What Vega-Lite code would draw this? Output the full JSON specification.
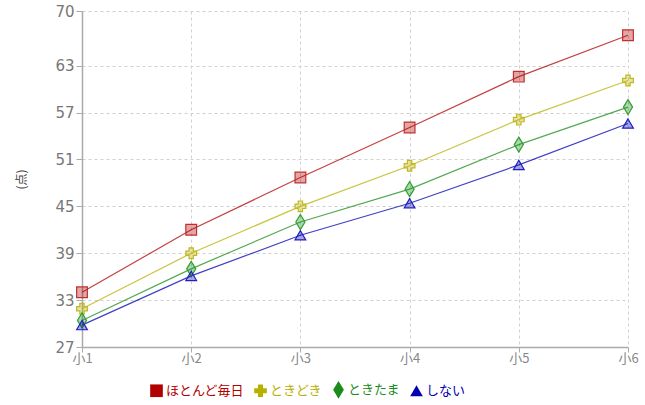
{
  "$schema": "https://vega.github.io/schema/vega-lite/v6.json",
  "autosize": "none",
  "width": 546,
  "height": 336,
  "padding": {"left": 82, "top": 11, "right": 17, "bottom": 58},
  "background": "white",
  "config": {"font": "Noto Sans CJK JP", "view": {"stroke": null}},
  "data": {"values": [
    {"grade": "小1", "series": "ほとんど毎日", "score": 34.0},
    {"grade": "小2", "series": "ほとんど毎日", "score": 42.0},
    {"grade": "小3", "series": "ほとんど毎日", "score": 48.7},
    {"grade": "小4", "series": "ほとんど毎日", "score": 55.1},
    {"grade": "小5", "series": "ほとんど毎日", "score": 61.6},
    {"grade": "小6", "series": "ほとんど毎日", "score": 66.9},
    {"grade": "小1", "series": "ときどき", "score": 31.9},
    {"grade": "小2", "series": "ときどき", "score": 39.0},
    {"grade": "小3", "series": "ときどき", "score": 45.0},
    {"grade": "小4", "series": "ときどき", "score": 50.2},
    {"grade": "小5", "series": "ときどき", "score": 56.1},
    {"grade": "小6", "series": "ときどき", "score": 61.1},
    {"grade": "小1", "series": "ときたま", "score": 30.4},
    {"grade": "小2", "series": "ときたま", "score": 37.0},
    {"grade": "小3", "series": "ときたま", "score": 43.0},
    {"grade": "小4", "series": "ときたま", "score": 47.2},
    {"grade": "小5", "series": "ときたま", "score": 52.9},
    {"grade": "小6", "series": "ときたま", "score": 57.7},
    {"grade": "小1", "series": "しない", "score": 29.8},
    {"grade": "小2", "series": "しない", "score": 36.1},
    {"grade": "小3", "series": "しない", "score": 41.3},
    {"grade": "小4", "series": "しない", "score": 45.4},
    {"grade": "小5", "series": "しない", "score": 50.3},
    {"grade": "小6", "series": "しない", "score": 55.6}
  ]},
  "encoding": {
    "x": {
      "field": "grade", "type": "ordinal",
      "scale": {"type": "point", "padding": 0},
      "axis": {
        "title": null, "labelAngle": 0, "labelFontSize": 13, "labelColor": "#888",
        "labelFont": "Noto Sans CJK JP",
        "domainColor": "#aaa", "domainWidth": 1.5, "tickColor": "#aaa", "tickSize": 5,
        "grid": true, "gridDash": [3, 3], "gridColor": "#d0d0d0", "labelPadding": 0
      }
    },
    "y": {
      "field": "score", "type": "quantitative",
      "scale": {"domain": [27, 70], "nice": false, "zero": false},
      "axis": {
        "title": "(点)", "titleFontSize": 12, "titleFontWeight": "normal", "titleColor": "#444",
        "titlePadding": 26,
        "values": [27, 33, 39, 45, 51, 57, 63, 70],
        "labelFontSize": 15, "labelColor": "#777", "labelFont": "DejaVu Sans",
        "domainColor": "#aaa", "domainWidth": 1.5, "tickColor": "#aaa", "tickSize": 6,
        "grid": true, "gridDash": [3, 3], "gridColor": "#d0d0d0", "labelPadding": 2
      }
    },
    "color": {
      "field": "series", "type": "nominal",
      "scale": {
        "domain": ["ほとんど毎日", "ときどき", "ときたま", "しない"],
        "range": ["#b00000", "#b8b000", "#1a8c1a", "#0000b0"]
      },
      "legend": {
        "orient": "none", "legendX": 68, "legendY": 372, "direction": "horizontal",
        "title": null, "labelFontSize": 13, "symbolSize": 160, "columnPadding": 9,
        "labelOffset": 3, "symbolStrokeWidth": 0,
        "encode": {
          "labels": {"update": {"fill": {"scale": "color", "field": "value"}}},
          "symbols": {"update": {"fillOpacity": {"value": 1}, "opacity": {"value": 1}}}
        }
      }
    },
    "shape": {
      "field": "series", "type": "nominal",
      "scale": {
        "domain": ["ほとんど毎日", "ときどき", "ときたま", "しない"],
        "range": ["square", "cross", "M0,-1.4L0.85,0L0,1.4L-0.85,0Z", "triangle-up"]
      }
    }
  },
  "layer": [
    {
      "mark": {"type": "line", "strokeWidth": 1.2, "opacity": 0.75},
      "encoding": {"shape": null}
    },
    {
      "mark": {"type": "point", "filled": true, "fillOpacity": 0.35, "strokeWidth": 1.2, "size": 115},
      "encoding": {
        "stroke": {"field": "series", "type": "nominal", "scale": {"domain": ["ほとんど毎日", "ときどき", "ときたま", "しない"], "range": ["#c03030", "#c0b820", "#30a030", "#2020c0"]}, "legend": null}
      }
    }
  ]
}
